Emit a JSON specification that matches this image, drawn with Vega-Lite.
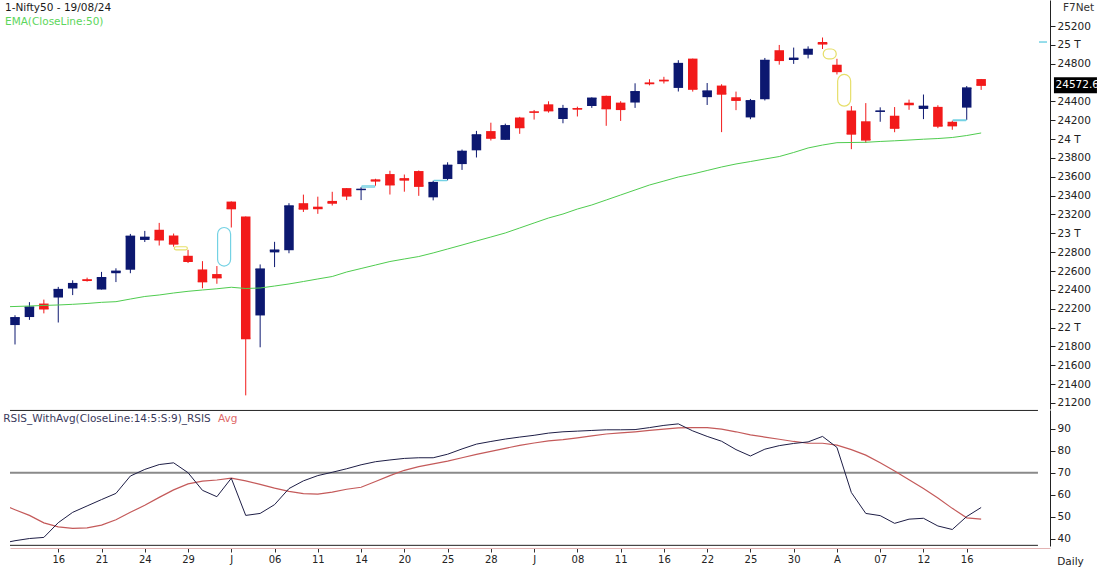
{
  "$schema": "https://vega.github.io/schema/vega-lite/v6.json",
  "padding": {"left": 3, "right": 0, "top": 0, "bottom": 0},
  "spacing": 0,
  "background": "#ffffff",
  "config": {
    "view": {"stroke": null},
    "font": "DejaVu Sans",
    "axis": {"grid": false, "labelFont": "DejaVu Sans", "titleFont": "DejaVu Sans", "labelOverlap": false, "labelFlush": false, "labelBound": false}
  },
  "datasets": {
    "candles": [
      {"i":0,"o":22027,"h":22131,"l":21821,"c":22104},
      {"i":1,"o":22112,"h":22270,"l":22082,"c":22217},
      {"i":2,"o":22255,"h":22297,"l":22151,"c":22200},
      {"i":3,"o":22319,"h":22432,"l":22054,"c":22403},
      {"i":4,"o":22415,"h":22502,"l":22345,"c":22466},
      {"i":5,"o":22512,"h":22530,"l":22488,"c":22502},
      {"i":6,"o":22404,"h":22591,"l":22404,"c":22529},
      {"i":7,"o":22577,"h":22629,"l":22483,"c":22597},
      {"i":8,"o":22614,"h":22994,"l":22577,"c":22968},
      {"i":9,"o":22930,"h":23026,"l":22908,"c":22957},
      {"i":10,"o":23038,"h":23111,"l":22871,"c":22932},
      {"i":11,"o":22977,"h":22998,"l":22858,"c":22888},
      {"i":12,"o":22762,"h":22825,"l":22685,"c":22704},
      {"i":13,"o":22617,"h":22705,"l":22417,"c":22488},
      {"i":14,"o":22568,"h":22653,"l":22465,"c":22530},
      {"i":15,"o":23337,"h":23339,"l":23062,"c":23263},
      {"i":16,"o":23179,"h":23179,"l":21281,"c":21884},
      {"i":17,"o":22129,"h":22670,"l":21791,"c":22620},
      {"i":18,"o":22798,"h":22910,"l":22642,"c":22821},
      {"i":19,"o":22821,"h":23320,"l":22789,"c":23290},
      {"i":20,"o":23320,"h":23411,"l":23227,"c":23259},
      {"i":21,"o":23283,"h":23389,"l":23207,"c":23264},
      {"i":22,"o":23344,"h":23441,"l":23295,"c":23322},
      {"i":23,"o":23480,"h":23481,"l":23353,"c":23398},
      {"i":24,"o":23460,"h":23490,"l":23353,"c":23466},
      {"i":25,"o":23573,"h":23579,"l":23505,"c":23557},
      {"i":26,"o":23629,"h":23664,"l":23412,"c":23516},
      {"i":27,"o":23586,"h":23624,"l":23442,"c":23567},
      {"i":28,"o":23661,"h":23667,"l":23398,"c":23501},
      {"i":29,"o":23382,"h":23558,"l":23350,"c":23538},
      {"i":30,"o":23577,"h":23754,"l":23562,"c":23721},
      {"i":31,"o":23735,"h":23889,"l":23673,"c":23869},
      {"i":32,"o":23881,"h":24087,"l":23805,"c":24044},
      {"i":33,"o":24085,"h":24174,"l":23985,"c":24011},
      {"i":34,"o":23992,"h":24164,"l":23992,"c":24141},
      {"i":35,"o":24229,"h":24236,"l":24056,"c":24123},
      {"i":36,"o":24291,"h":24309,"l":24207,"c":24286},
      {"i":37,"o":24369,"h":24401,"l":24281,"c":24302},
      {"i":38,"o":24213,"h":24363,"l":24168,"c":24323},
      {"i":39,"o":24329,"h":24344,"l":24240,"c":24320},
      {"i":40,"o":24351,"h":24443,"l":24331,"c":24433},
      {"i":41,"o":24459,"h":24461,"l":24141,"c":24324},
      {"i":42,"o":24387,"h":24402,"l":24193,"c":24316},
      {"i":43,"o":24388,"h":24592,"l":24331,"c":24502},
      {"i":44,"o":24600,"h":24635,"l":24570,"c":24590},
      {"i":45,"o":24630,"h":24661,"l":24590,"c":24620},
      {"i":46,"o":24543,"h":24837,"l":24505,"c":24801},
      {"i":47,"o":24854,"h":24854,"l":24504,"c":24531},
      {"i":48,"o":24445,"h":24595,"l":24362,"c":24509},
      {"i":49,"o":24568,"h":24582,"l":24074,"c":24479},
      {"i":50,"o":24444,"h":24504,"l":24307,"c":24413},
      {"i":51,"o":24230,"h":24426,"l":24211,"c":24406},
      {"i":52,"o":24423,"h":24861,"l":24410,"c":24834},
      {"i":53,"o":24943,"h":24999,"l":24790,"c":24836},
      {"i":54,"o":24839,"h":24971,"l":24798,"c":24857},
      {"i":55,"o":24895,"h":24984,"l":24856,"c":24951},
      {"i":56,"o":25030,"h":25078,"l":24956,"c":25011},
      {"i":57,"o":24789,"h":24852,"l":24686,"c":24718},
      {"i":58,"o":24303,"h":24350,"l":23893,"c":24055},
      {"i":59,"o":24189,"h":24382,"l":23960,"c":23992},
      {"i":60,"o":24289,"h":24337,"l":24184,"c":24297},
      {"i":61,"o":24248,"h":24340,"l":24073,"c":24117},
      {"i":62,"o":24386,"h":24419,"l":24311,"c":24367},
      {"i":63,"o":24320,"h":24473,"l":24212,"c":24347},
      {"i":64,"o":24342,"h":24359,"l":24116,"c":24139},
      {"i":65,"o":24184,"h":24196,"l":24099,"c":24143},
      {"i":66,"o":24334,"h":24563,"l":24204,"c":24541},
      {"i":67,"o":24637,"h":24638,"l":24522,"c":24572.6}
    ],
    "lines": [
      {"i":-1,"ema":22220,"rsi":37.8,"avg":55.8},
      {"i":0,"ema":22224,"rsi":39.1,"avg":53.2},
      {"i":1,"ema":22229,"rsi":40.1,"avg":50.6},
      {"i":2,"ema":22235,"rsi":40.6,"avg":47.2},
      {"i":3,"ema":22240,"rsi":47.3,"avg":45.4},
      {"i":4,"ema":22247,"rsi":52.0,"avg":44.7},
      {"i":5,"ema":22256,"rsi":54.9,"avg":44.9},
      {"i":6,"ema":22268,"rsi":57.8,"avg":46.2},
      {"i":7,"ema":22275,"rsi":60.6,"avg":48.6},
      {"i":8,"ema":22303,"rsi":68.5,"avg":52.0},
      {"i":9,"ema":22330,"rsi":71.5,"avg":55.2},
      {"i":10,"ema":22346,"rsi":73.7,"avg":58.8},
      {"i":11,"ema":22367,"rsi":74.5,"avg":62.2},
      {"i":12,"ema":22385,"rsi":70.0,"avg":64.9},
      {"i":13,"ema":22399,"rsi":62.0,"avg":66.2},
      {"i":14,"ema":22412,"rsi":59.1,"avg":66.7},
      {"i":15,"ema":22428,"rsi":67.5,"avg":67.5},
      {"i":16,"ema":22415,"rsi":50.6,"avg":66.3},
      {"i":17,"ema":22420,"rsi":51.5,"avg":64.7},
      {"i":18,"ema":22441,"rsi":55.5,"avg":63.0},
      {"i":19,"ema":22463,"rsi":62.8,"avg":61.5},
      {"i":20,"ema":22489,"rsi":66.3,"avg":60.5},
      {"i":21,"ema":22516,"rsi":68.7,"avg":60.3},
      {"i":22,"ema":22542,"rsi":70.2,"avg":61.2},
      {"i":23,"ema":22590,"rsi":71.8,"avg":62.5},
      {"i":24,"ema":22627,"rsi":73.6,"avg":63.4},
      {"i":25,"ema":22664,"rsi":75.0,"avg":66.0},
      {"i":26,"ema":22701,"rsi":75.8,"avg":68.7},
      {"i":27,"ema":22728,"rsi":76.5,"avg":71.1},
      {"i":28,"ema":22754,"rsi":76.8,"avg":72.8},
      {"i":29,"ema":22792,"rsi":76.8,"avg":74.0},
      {"i":30,"ema":22834,"rsi":78.4,"avg":75.3},
      {"i":31,"ema":22876,"rsi":80.8,"avg":76.8},
      {"i":32,"ema":22919,"rsi":83.0,"avg":78.3},
      {"i":33,"ema":22961,"rsi":84.2,"avg":79.7},
      {"i":34,"ema":23004,"rsi":85.3,"avg":81.1},
      {"i":35,"ema":23057,"rsi":86.2,"avg":82.4},
      {"i":36,"ema":23110,"rsi":87.0,"avg":83.5},
      {"i":37,"ema":23163,"rsi":88.0,"avg":84.5},
      {"i":38,"ema":23205,"rsi":88.6,"avg":85.0},
      {"i":39,"ema":23258,"rsi":88.9,"avg":85.8},
      {"i":40,"ema":23301,"rsi":89.2,"avg":86.7},
      {"i":41,"ema":23354,"rsi":89.5,"avg":87.6},
      {"i":42,"ema":23407,"rsi":89.5,"avg":88.1},
      {"i":43,"ema":23460,"rsi":89.6,"avg":88.6},
      {"i":44,"ema":23513,"rsi":90.5,"avg":89.2},
      {"i":45,"ema":23555,"rsi":91.5,"avg":89.8},
      {"i":46,"ema":23598,"rsi":92.2,"avg":90.4},
      {"i":47,"ema":23630,"rsi":89.0,"avg":90.5},
      {"i":48,"ema":23667,"rsi":86.5,"avg":90.5},
      {"i":49,"ema":23704,"rsi":84.3,"avg":89.8},
      {"i":50,"ema":23736,"rsi":80.5,"avg":88.6},
      {"i":51,"ema":23762,"rsi":77.6,"avg":87.2},
      {"i":52,"ema":23789,"rsi":80.7,"avg":86.2},
      {"i":53,"ema":23815,"rsi":82.3,"avg":85.2},
      {"i":54,"ema":23858,"rsi":83.3,"avg":84.2},
      {"i":55,"ema":23906,"rsi":84.0,"avg":83.4},
      {"i":56,"ema":23937,"rsi":86.5,"avg":83.4},
      {"i":57,"ema":23962,"rsi":81.5,"avg":82.5},
      {"i":58,"ema":23964,"rsi":61.0,"avg":80.5},
      {"i":59,"ema":23966,"rsi":51.5,"avg":78.0},
      {"i":60,"ema":23975,"rsi":50.5,"avg":74.5},
      {"i":61,"ema":23982,"rsi":47.0,"avg":70.8},
      {"i":62,"ema":23990,"rsi":48.9,"avg":66.8},
      {"i":63,"ema":23999,"rsi":49.3,"avg":62.8},
      {"i":64,"ema":24006,"rsi":45.8,"avg":58.5},
      {"i":65,"ema":24017,"rsi":44.2,"avg":53.8},
      {"i":66,"ema":24038,"rsi":50.1,"avg":49.5},
      {"i":67,"ema":24065,"rsi":54.2,"avg":48.9}
    ],
    "gaps": [
      {"i":11.5,"lo":22825,"hi":22858,"kind":"down"},
      {"i":14.5,"lo":22653,"hi":23062,"kind":"up"},
      {"i":24.5,"lo":23490,"hi":23505,"kind":"up"},
      {"i":29.5,"lo":23558,"hi":23562,"kind":"up"},
      {"i":56.5,"lo":24852,"hi":24956,"kind":"down"},
      {"i":57.5,"lo":24350,"hi":24686,"kind":"down"},
      {"i":65.5,"lo":24196,"hi":24204,"kind":"up"}
    ]
  },
  "vconcat": [
    {
      "width": 1040,
      "height": 409,
      "layer": [
        {
          "data": {"name": "candles"},
          "mark": {"type": "rule", "strokeWidth": 1},
          "encoding": {
            "x": {"field": "i", "type": "quantitative", "scale": {"domain": [-0.347, 71.775], "nice": false, "zero": false, "padding": 0}, "axis": null},
            "y": {"field": "l", "type": "quantitative", "scale": {"domain": [21136.3, 25475.9], "nice": false, "zero": false, "padding": 0},
              "axis": {"orient": "right", "values": [21200,21400,21600,21800,22000,22200,22400,22600,22800,23000,23200,23400,23600,23800,24000,24200,24400,24800,25000,25200],
                "tickCount": 100,
                "format": "d", "labelExpr": "datum.value % 1000 == 0 ? (datum.value/1000) + ' T' : datum.label",
                "labelOverlap": false, "labelFlush": false, "labelBound": false,
                "title": "F7Net", "titleAngle": 0, "titleX": 28, "titleY": 7.5, "titleAlign": "center", "titleBaseline": "middle",
                "titleFontSize": 10.5, "titleColor": "#333333", "titleFontWeight": "normal",
                "tickSize": 5, "labelPadding": 2, "labelFontSize": 10.5, "labelColor": "#222222", "domainColor": "#222222", "tickColor": "#222222"}},
            "y2": {"field": "h"},
            "color": {"condition": {"test": "datum.c < datum.o", "value": "#f21a1a"}, "value": "#0c1870"}
          }
        },
        {
          "data": {"name": "candles"},
          "mark": {"type": "bar", "size": 9.5},
          "encoding": {
            "x": {"field": "i", "type": "quantitative", "scale": {"domain": [-0.347, 71.775], "nice": false, "zero": false, "padding": 0}, "axis": null},
            "y": {"field": "o", "type": "quantitative", "scale": {"domain": [21136.3, 25475.9], "nice": false, "zero": false, "padding": 0}},
            "y2": {"field": "c"},
            "color": {"condition": {"test": "datum.c < datum.o", "value": "#f21a1a"}, "value": "#0c1870"}
          }
        },
        {
          "data": {"name": "candles"},
          "mark": {"type": "tick", "orient": "horizontal", "size": 9.5, "thickness": 1.5, "opacity": 1},
          "encoding": {
            "x": {"field": "i", "type": "quantitative", "scale": {"domain": [-0.347, 71.775], "nice": false, "zero": false, "padding": 0}, "axis": null},
            "y": {"field": "c", "type": "quantitative", "scale": {"domain": [21136.3, 25475.9], "nice": false, "zero": false, "padding": 0}},
            "color": {"condition": {"test": "datum.c < datum.o", "value": "#f21a1a"}, "value": "#0c1870"}
          }
        },
        {
          "data": {"name": "lines"},
          "mark": {"type": "line", "color": "#4fcc4f", "strokeWidth": 1, "clip": true},
          "encoding": {
            "x": {"field": "i", "type": "quantitative", "scale": {"domain": [-0.347, 71.775], "nice": false, "zero": false, "padding": 0}, "axis": null},
            "y": {"field": "ema", "type": "quantitative", "scale": {"domain": [21136.3, 25475.9], "nice": false, "zero": false, "padding": 0}}
          }
        },
        {
          "data": {"name": "gaps"},
          "mark": {"type": "bar", "size": 13, "cornerRadius": 6.5, "fillOpacity": 0, "strokeWidth": 1.2},
          "encoding": {
            "x": {"field": "i", "type": "quantitative", "scale": {"domain": [-0.347, 71.775], "nice": false, "zero": false, "padding": 0}, "axis": null},
            "y": {"field": "lo", "type": "quantitative", "scale": {"domain": [21136.3, 25475.9], "nice": false, "zero": false, "padding": 0}},
            "y2": {"field": "hi"},
            "stroke": {"condition": {"test": "datum.kind == 'up'", "value": "#74d2e4"}, "value": "#e6df6a"}
          }
        },
        {
          "data": {"values": [{"t": "1-Nifty50 - 19/08/24"}]},
          "mark": {"type": "text", "align": "left", "baseline": "middle", "fontSize": 10.5, "color": "#1a1a1a"},
          "encoding": {
            "x": {"datum": -0.694, "type": "quantitative", "scale": {"domain": [-0.347, 71.775], "nice": false, "zero": false, "padding": 0}, "axis": null},
            "y": {"datum": 25396, "type": "quantitative", "scale": {"domain": [21136.3, 25475.9], "nice": false, "zero": false, "padding": 0}},
            "text": {"field": "t", "type": "nominal"}
          }
        },
        {
          "data": {"values": [{"t": "EMA(CloseLine:50)"}]},
          "mark": {"type": "text", "align": "left", "baseline": "middle", "fontSize": 10.5, "color": "#5cd65c"},
          "encoding": {
            "x": {"datum": -0.694, "type": "quantitative", "scale": {"domain": [-0.347, 71.775], "nice": false, "zero": false, "padding": 0}, "axis": null},
            "y": {"datum": 25242, "type": "quantitative", "scale": {"domain": [21136.3, 25475.9], "nice": false, "zero": false, "padding": 0}},
            "text": {"field": "t", "type": "nominal"}
          }
        },
        {
          "data": {"values": [{"v": 25030}]},
          "mark": {"type": "tick", "orient": "horizontal", "size": 8, "thickness": 1.5, "color": "#74d2e4", "opacity": 1},
          "encoding": {
            "x": {"datum": 71.29, "type": "quantitative", "scale": {"domain": [-0.347, 71.775], "nice": false, "zero": false, "padding": 0}, "axis": null},
            "y": {"field": "v", "type": "quantitative", "scale": {"domain": [21136.3, 25475.9], "nice": false, "zero": false, "padding": 0}}
          }
        },
        {
          "data": {"name": "candles"},
          "transform": [{"filter": "datum.i == 67"}],
          "mark": {"type": "tick", "orient": "horizontal", "size": 43, "thickness": 16, "color": "#000000", "opacity": 1},
          "encoding": {
            "x": {"datum": 73.54, "type": "quantitative", "scale": {"domain": [-0.347, 71.775], "nice": false, "zero": false, "padding": 0}, "axis": null},
            "y": {"field": "c", "type": "quantitative", "scale": {"domain": [21136.3, 25475.9], "nice": false, "zero": false, "padding": 0}}
          }
        },
        {
          "data": {"name": "candles"},
          "transform": [{"filter": "datum.i == 67"}],
          "mark": {"type": "text", "align": "left", "baseline": "middle", "fontSize": 10.5, "color": "#ffffff"},
          "encoding": {
            "x": {"datum": 72.16, "type": "quantitative", "scale": {"domain": [-0.347, 71.775], "nice": false, "zero": false, "padding": 0}, "axis": null},
            "y": {"field": "c", "type": "quantitative", "scale": {"domain": [21136.3, 25475.9], "nice": false, "zero": false, "padding": 0}},
            "text": {"field": "c", "type": "quantitative", "format": ".1f"}
          }
        }
      ]
    },
    {
      "width": 1040,
      "height": 136,
      "layer": [
        {
          "data": {"values": [{"v": 70}]},
          "mark": {"type": "rule", "color": "#8a8a8a", "strokeWidth": 2},
          "encoding": {
            "x": {"datum": -0.347, "type": "quantitative", "scale": {"domain": [-0.347, 71.775], "nice": false, "zero": false, "padding": 0}},
            "x2": {"datum": 70.94},
            "y": {"field": "v", "type": "quantitative", "scale": {"domain": [36.7, 98.5], "nice": false, "zero": false, "padding": 0}}
          }
        },
        {
          "data": {"values": [{"v": 98.3}, {"v": 37.0}]},
          "mark": {"type": "rule", "color": "#222222", "strokeWidth": 1},
          "encoding": {
            "x": {"datum": -0.347, "type": "quantitative", "scale": {"domain": [-0.347, 71.775], "nice": false, "zero": false, "padding": 0}},
            "x2": {"datum": 70.94},
            "y": {"field": "v", "type": "quantitative", "scale": {"domain": [36.7, 98.5], "nice": false, "zero": false, "padding": 0}}
          }
        },
        {
          "data": {"name": "lines"},
          "mark": {"type": "line", "color": "#c45a5a", "strokeWidth": 1.2, "clip": true},
          "encoding": {
            "x": {"field": "i", "type": "quantitative", "scale": {"domain": [-0.347, 71.775], "nice": false, "zero": false, "padding": 0},
              "axis": {"values": [3,6,9,12,15,18,21,24,27,30,33,36,39,42,45,48,51,54,57,60,63,66],
                "tickCount": 100,
                "labelExpr": "['16','21','24','29','J','06','11','14','20','25','28','J','08','11','16','22','25','30','A','07','12','16'][round(datum.value/3)-1]",
                "labelOverlap": false, "labelFlush": false,
                "domainColor": "#e3b3b3", "tickColor": "#333333", "tickSize": 4, "labelPadding": 2, "labelFontSize": 10, "labelColor": "#222222",
                "offset": 2,
                "title": "Daily", "titleX": 1060, "titleY": 13, "titleAlign": "center", "titleBaseline": "middle",
                "titleFontSize": 10.5, "titleColor": "#222222", "titleFontWeight": "normal"}},
            "y": {"field": "avg", "type": "quantitative", "scale": {"domain": [36.7, 98.5], "nice": false, "zero": false, "padding": 0},
              "axis": {"orient": "right", "values": [40,50,60,70,80,90], "tickCount": 100, "format": "d", "title": null, "tickSize": 5, "labelPadding": 2,
                "labelOverlap": false, "labelFlush": false, "labelBound": false,
                "labelFontSize": 10.5, "labelColor": "#222222", "domainColor": "#222222", "tickColor": "#222222"}}
          }
        },
        {
          "data": {"name": "lines"},
          "mark": {"type": "line", "color": "#1e1e46", "strokeWidth": 1, "clip": true},
          "encoding": {
            "x": {"field": "i", "type": "quantitative", "scale": {"domain": [-0.347, 71.775], "nice": false, "zero": false, "padding": 0}},
            "y": {"field": "rsi", "type": "quantitative", "scale": {"domain": [36.7, 98.5], "nice": false, "zero": false, "padding": 0}}
          }
        },
        {
          "data": {"values": [{"t": "RSIS_WithAvg(CloseLine:14:5:S:9)_RSIS"}]},
          "mark": {"type": "text", "align": "left", "baseline": "middle", "fontSize": 10.5, "color": "#3a3a5c"},
          "encoding": {
            "x": {"datum": -0.812, "type": "quantitative", "scale": {"domain": [-0.347, 71.775], "nice": false, "zero": false, "padding": 0}},
            "y": {"datum": 94.3, "type": "quantitative", "scale": {"domain": [36.7, 98.5], "nice": false, "zero": false, "padding": 0}},
            "text": {"field": "t", "type": "nominal"}
          }
        },
        {
          "data": {"values": [{"t": "Avg"}]},
          "mark": {"type": "text", "align": "left", "baseline": "middle", "fontSize": 10.5, "color": "#e06a6a"},
          "encoding": {
            "x": {"datum": 14.08, "type": "quantitative", "scale": {"domain": [-0.347, 71.775], "nice": false, "zero": false, "padding": 0}},
            "y": {"datum": 94.3, "type": "quantitative", "scale": {"domain": [36.7, 98.5], "nice": false, "zero": false, "padding": 0}},
            "text": {"field": "t", "type": "nominal"}
          }
        }
      ]
    }
  ]
}
